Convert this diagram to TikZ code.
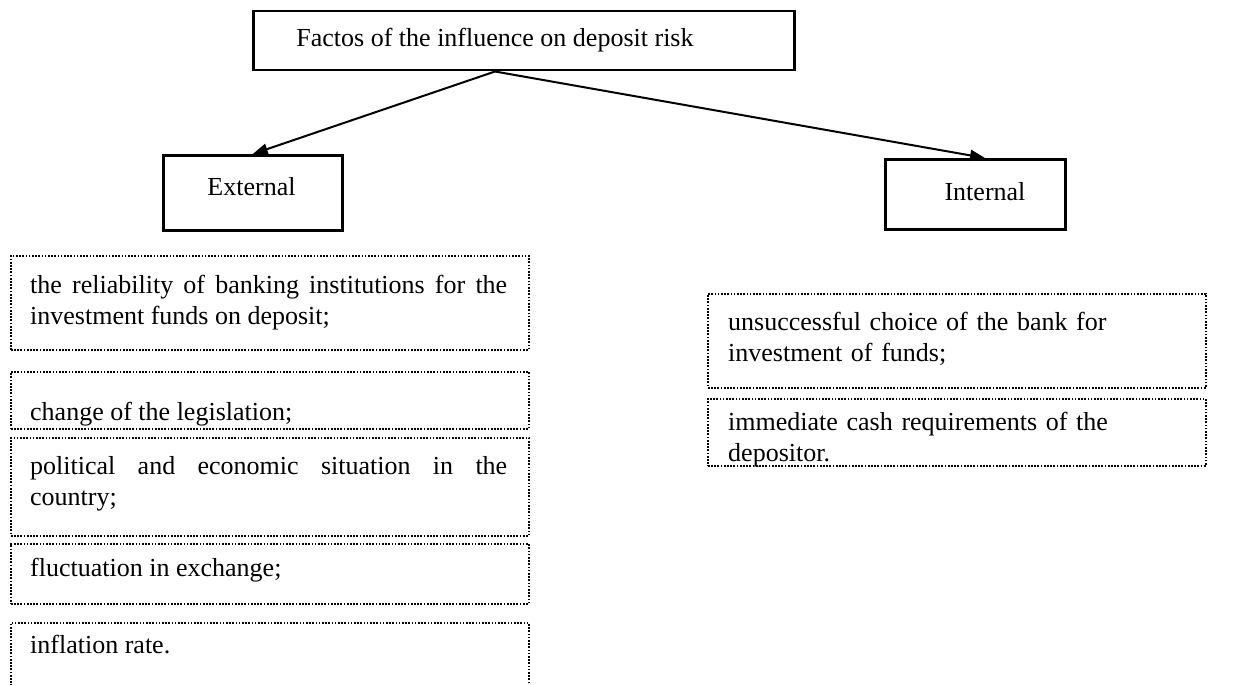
\documentclass[tikz,border=0pt]{standalone}
\usepackage{fontspec}
\setmainfont{Liberation Serif}
\usetikzlibrary{arrows.meta,calc}
\hyphenpenalty=10000
\exhyphenpenalty=10000
\tikzset{
  solidbox/.style={draw, line width=2.5pt, inner sep=0pt, anchor=north west},
  dotbox/.style={draw, line width=1.7pt, dash pattern=on 1.7pt off 1.5pt, inner sep=0pt, anchor=north west},
  txt/.style={inner sep=0pt, font=\fontsize{26}{31.5}\selectfont},
  lefttxt/.style={txt, text width=477pt, align=justify, anchor=base west},
  righttxt/.style={txt, text width=470pt, align=left, anchor=base west},
  conn/.style={line width=2pt, -{Triangle[length=15pt,width=11pt]}}
}
\begin{document}
\begin{tikzpicture}[x=1pt,y=-1pt]
\useasboundingbox (0,0) rectangle (1239,685);
% top box
\node[solidbox, minimum width=541pt, minimum height=59pt] (top) at (252,10) {};
\node[txt, anchor=base] (title) at (495,47) {Factos of the influence on deposit risk};
% category boxes
\node[solidbox, minimum width=179pt, minimum height=75pt] (ext) at (162,154) {};
\node[txt, anchor=base] (extt) at (251.5,195) {External};
\node[solidbox, minimum width=180pt, minimum height=70pt] (int) at (884,158) {};
\node[txt, anchor=base] (intt) at (985,200) {Internal};
% connectors
\coordinate (src) at (top.south -| title);
\draw[conn] (src) -- (ext.north);
\draw[conn] (src) -- (int.north -| intt);
% left dotted boxes
\node[dotbox, minimum width=518pt, minimum height=94pt] (l1) at (10,255) {};
\node[lefttxt] (l1t) at (30,293) {the reliability of banking institutions for the\linebreak investment funds on deposit;};
\node[dotbox, minimum width=518pt, minimum height=57pt] (l2) at (10,371) {};
\node[lefttxt] (l2t) at (30,420) {change of the legislation;};
\node[dotbox, minimum width=518pt, minimum height=98pt] (l3) at (10,437) {};
\node[lefttxt] (l3t) at (30,474) {political and economic situation in the\linebreak country;};
\node[dotbox, minimum width=518pt, minimum height=60pt] (l4) at (10,543) {};
\node[lefttxt] (l4t) at (30,576) {fluctuation in exchange;};
\node[dotbox, minimum width=518pt, minimum height=80pt] (l5) at (10,622) {};
\node[lefttxt] (l5t) at (30,653) {inflation rate.};
% right dotted boxes
\node[dotbox, minimum width=498pt, minimum height=94pt] (r1) at (707,293) {};
\node[righttxt] (r1t) at (728,330) {unsuccessful choice of the bank for\\investment of funds;};
\node[dotbox, minimum width=498pt, minimum height=67pt] (r2) at (707,398) {};
\node[righttxt] (r2t) at (728,430) {immediate cash requirements of the\\depositor.};
\end{tikzpicture}
\end{document}
